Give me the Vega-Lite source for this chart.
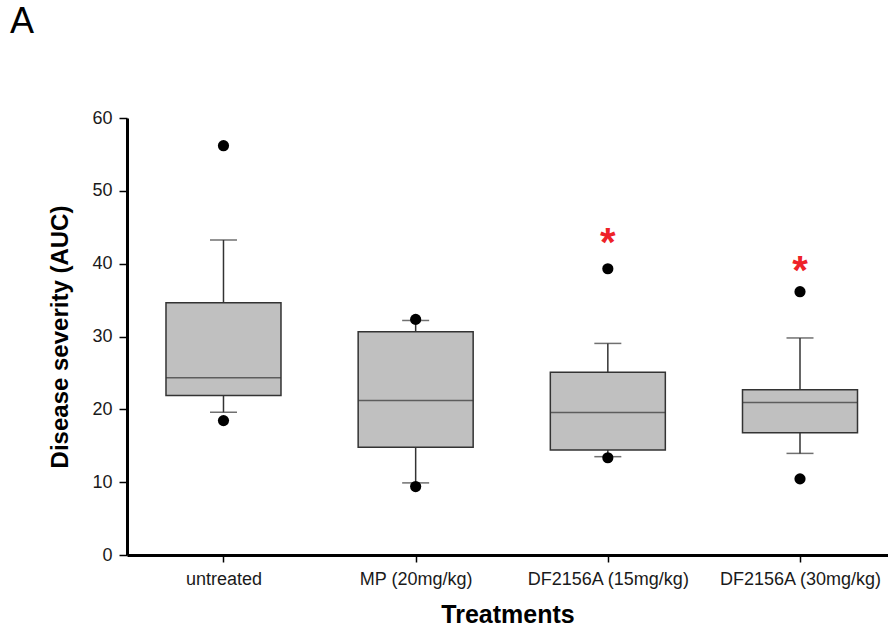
{
  "$schema": "https://vega.github.io/schema/vega-lite/v6.json",
  "width": 761,
  "height": 437,
  "autosize": {"type": "none"},
  "padding": {"left": 127, "top": 118, "right": 0, "bottom": 73},
  "background": "white",
  "config": {"view": {"stroke": null}, "font": "Liberation Sans"},
  "title": {"text": "A", "anchor": "start", "frame": "group", "fontSize": 36, "fontWeight": "normal", "font": "Liberation Sans", "color": "black", "baseline": "alphabetic", "dx": -117, "dy": -36},
  "datasets": {
    "stats": [
      {"group": "untreated", "lower": 19.6, "q1": 21.9, "median": 24.35, "q3": 34.65, "upper": 43.25},
      {"group": "MP (20mg/kg)", "lower": 9.9, "q1": 14.8, "median": 21.2, "q3": 30.65, "upper": 32.2},
      {"group": "DF2156A (15mg/kg)", "lower": 13.5, "q1": 14.4, "median": 19.55, "q3": 25.1, "upper": 29.05},
      {"group": "DF2156A (30mg/kg)", "lower": 13.95, "q1": 16.8, "median": 20.95, "q3": 22.7, "upper": 29.8}
    ],
    "outliers": [
      {"group": "untreated", "value": 56.2},
      {"group": "untreated", "value": 18.45},
      {"group": "MP (20mg/kg)", "value": 32.35},
      {"group": "MP (20mg/kg)", "value": 9.4},
      {"group": "DF2156A (15mg/kg)", "value": 39.3},
      {"group": "DF2156A (15mg/kg)", "value": 13.35},
      {"group": "DF2156A (30mg/kg)", "value": 36.15},
      {"group": "DF2156A (30mg/kg)", "value": 10.45}
    ],
    "stars": [
      {"group": "DF2156A (15mg/kg)", "value": 41.0, "label": "*"},
      {"group": "DF2156A (30mg/kg)", "value": 37.2, "label": "*"}
    ]
  },
  "encoding": {
    "x": {
      "field": "group", "type": "nominal",
      "sort": ["untreated", "MP (20mg/kg)", "DF2156A (15mg/kg)", "DF2156A (30mg/kg)"],
      "scale": {"type": "point", "padding": 0.48, "align": 0.523},
      "axis": {
        "title": "Treatments", "titleFontSize": 25, "titleFontWeight": "bold", "titleColor": "black", "titlePadding": 14,
        "labelFontSize": 18, "labelAngle": 0, "labelColor": "#1a1a1a", "labelPadding": 8,
        "domainWidth": 3, "domainColor": "black", "tickSize": 7, "tickWidth": 1.5, "tickColor": "black", "grid": false
      }
    }
  },
  "layer": [
    {
      "data": {"name": "stats"},
      "mark": {"type": "rule", "color": "#333333", "strokeWidth": 1.5},
      "encoding": {
        "y": {
          "field": "q3", "type": "quantitative",
          "scale": {"domain": [0, 60], "nice": false},
          "axis": {
            "title": "Disease severity (AUC)", "titleFontSize": 24, "titleFontWeight": "bold", "titleColor": "black", "titlePadding": 19,
            "values": [0, 10, 20, 30, 40, 50, 60], "labelFontSize": 18, "labelColor": "#1a1a1a", "labelPadding": 7,
            "domainWidth": 3, "domainColor": "black", "tickSize": 8, "tickWidth": 1.5, "tickColor": "black", "grid": false
          }
        },
        "y2": {"field": "upper"}
      }
    },
    {
      "data": {"name": "stats"},
      "mark": {"type": "rule", "color": "#333333", "strokeWidth": 1.5},
      "encoding": {"y": {"field": "lower", "type": "quantitative"}, "y2": {"field": "q1"}}
    },
    {
      "data": {"name": "stats"},
      "mark": {"type": "tick", "color": "#333333", "size": 27, "thickness": 1.5},
      "encoding": {"y": {"field": "upper", "type": "quantitative"}}
    },
    {
      "data": {"name": "stats"},
      "mark": {"type": "tick", "color": "#333333", "size": 27, "thickness": 1.5},
      "encoding": {"y": {"field": "lower", "type": "quantitative"}}
    },
    {
      "data": {"name": "stats"},
      "mark": {"type": "bar", "width": 115, "fill": "#c0c0c0", "stroke": "#333333", "strokeWidth": 1.5},
      "encoding": {"y": {"field": "q1", "type": "quantitative"}, "y2": {"field": "q3"}}
    },
    {
      "data": {"name": "stats"},
      "mark": {"type": "tick", "color": "#333333", "size": 115, "thickness": 1.5},
      "encoding": {"y": {"field": "median", "type": "quantitative"}}
    },
    {
      "data": {"name": "outliers"},
      "mark": {"type": "point", "filled": true, "color": "black", "opacity": 1, "size": 125},
      "encoding": {"y": {"field": "value", "type": "quantitative"}}
    },
    {
      "data": {"name": "stars"},
      "mark": {"type": "text", "color": "#ee2228", "fontSize": 40, "fontWeight": "bold", "baseline": "alphabetic", "align": "center"},
      "encoding": {"y": {"field": "value", "type": "quantitative"}, "text": {"field": "label"}}
    }
  ]
}
